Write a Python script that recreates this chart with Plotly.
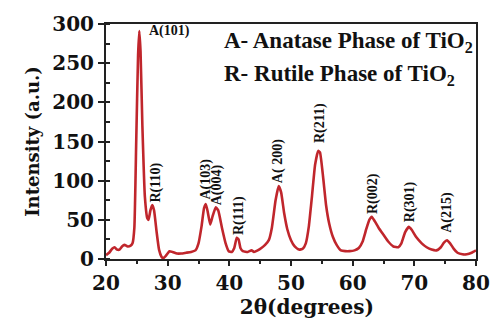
import plotly.graph_objects as go

two_theta = [20.0, 20.5, 21.0, 21.4, 21.8, 22.2, 22.6, 23.0, 23.5, 24.0, 24.3, 24.6, 24.9, 25.2, 25.4,
             25.6, 25.9, 26.3, 26.7, 26.9, 27.2, 27.5, 27.8, 28.2, 28.6, 29.0, 29.3, 29.7, 30.3, 30.8,
             31.5, 32.2, 33.0, 33.8, 34.5, 35.0, 35.5, 35.9, 36.2, 36.5, 36.9, 37.3, 37.8, 38.2, 38.8,
             39.4, 39.9, 40.4, 40.8, 41.2, 41.5, 41.8, 42.2, 43.0, 43.6, 44.0, 44.6, 45.2, 45.8, 46.4,
             46.9, 47.5, 48.0, 48.4, 48.9, 49.4, 50.0, 50.6, 51.3, 51.9, 52.4, 52.9, 53.4, 53.9, 54.4,
             54.7, 55.2, 55.7, 56.2, 56.8, 57.4, 58.1, 58.8, 59.5, 60.3, 61.0, 61.6, 62.2, 62.7, 63.1,
             63.6, 64.2, 65.0, 65.8, 66.6, 67.4, 67.9, 68.5, 69.1, 69.6, 70.3, 71.2, 72.0, 72.8, 73.6,
             74.3, 74.8, 75.3, 75.8, 76.4, 77.0, 77.8, 78.5, 79.3, 80.0]
intensity = [5, 8, 13, 15, 12, 12, 16, 18, 16, 17, 20, 40, 150, 260, 291,
             265, 170, 80, 52, 50, 62, 69, 62, 35, 12, 3, 1, 4, 10, 9,
             7, 7, 8, 9, 11, 20, 42, 65, 70, 60, 44, 55, 66, 62, 40,
             20, 10, 9, 14, 27, 25, 14, 10, 9, 11, 9, 11, 14, 18, 24,
             40, 75, 93, 85, 58, 38, 24, 16, 12, 13, 20, 42, 80, 120, 138,
             136, 105, 68, 45, 28, 18, 11, 10, 10, 11, 14, 22, 38, 50, 54,
             48, 40, 31, 22, 16, 15, 20, 34, 41, 37, 28, 20, 15, 12, 11,
             15, 21, 24, 20, 13, 8, 6, 6, 8, 11]

peak_labels = ["R(110)", "A(103)", "A(004)", "R(111)", "A( 200)", "R(211)", "R(002)", "R(301)", "A(215)"]
peak_label_x = [28.15, 36.3, 38.0, 41.6, 47.9, 54.8, 63.3, 69.2, 75.3]
peak_label_y = [98, 102, 94, 55, 125, 173, 83, 73, 59]

main_label = "A(101)"
main_label_x = 26.6
main_label_y = 291

legend_lines = ["A- Anatase Phase of TiO<sub>2</sub>", "R- Rutile Phase of TiO<sub>2</sub>"]

x_ticks = [20, 30, 40, 50, 60, 70, 80]
y_ticks = [0, 50, 100, 150, 200, 250, 300]

SERIF = "DejaVu Serif"
TIMES = "Liberation Serif"
INK = "#111111"

fig = go.Figure()
fig.add_trace(go.Scatter(
    x=two_theta, y=intensity, mode="lines",
    line=dict(color="#c0262c", width=2.6, shape="spline", smoothing=0.4),
    showlegend=False, hoverinfo="skip",
))

for t, x, y in zip(peak_labels, peak_label_x, peak_label_y):
    fig.add_annotation(x=x, y=y, text="<b>" + t + "</b>", textangle=-90, showarrow=False,
                       xanchor="center", yanchor="middle",
                       font=dict(family=TIMES, size=14, color=INK))

fig.add_annotation(x=main_label_x, y=main_label_y, text="<b>" + main_label + "</b>", showarrow=False,
                   xanchor="left", yanchor="middle",
                   font=dict(family=TIMES, size=14, color=INK))

for i, t in enumerate(legend_lines):
    fig.add_annotation(xref="paper", yref="paper", x=(226 - 106) / 384, y=(263 - [36, 70][i]) / 246,
                       text="<b>" + t + "</b>", showarrow=False, xanchor="left", yanchor="middle",
                       font=dict(family=TIMES, size=23, color=INK))

fig.update_layout(
    width=502, height=323,
    margin=dict(l=106, r=12, t=17, b=60),
    paper_bgcolor="white", plot_bgcolor="white",
    font=dict(family=SERIF, color=INK),
)
fig.update_xaxes(
    range=[20, 80], tickvals=x_ticks, ticktext=["<b>%d</b>" % v for v in x_ticks],
    ticklabeloverflow="allow",
    showgrid=False, zeroline=False, showline=True, linecolor="#222222", linewidth=2, mirror=True,
    ticks="outside", ticklen=5, tickwidth=2, tickcolor="#222222",
    minor=dict(dtick=5, ticks="outside", ticklen=3, tickwidth=2, tickcolor="#222222"),
    tickfont=dict(family=SERIF, size=20, color=INK),
    title=dict(text="&nbsp;&nbsp;&nbsp;&nbsp;&nbsp;<b>2θ(degrees)</b>",
               font=dict(family=SERIF, size=20, color=INK), standoff=2),
)
fig.update_yaxes(
    range=[0, 300], tickvals=y_ticks, ticktext=["<b>%d</b>" % v for v in y_ticks],
    showgrid=False, zeroline=False, showline=True, linecolor="#222222", linewidth=2, mirror=True,
    ticks="outside", ticklen=6, tickwidth=2, tickcolor="#222222",
    minor=dict(dtick=25, ticks="inside", ticklen=4, tickwidth=2, tickcolor="#222222"),
    tickfont=dict(family=SERIF, size=20, color=INK),
    title=dict(text="<b>Intensity (a.u.)</b>", font=dict(family=SERIF, size=18, color=INK), standoff=8),
)

fig.write_html("out.html")
